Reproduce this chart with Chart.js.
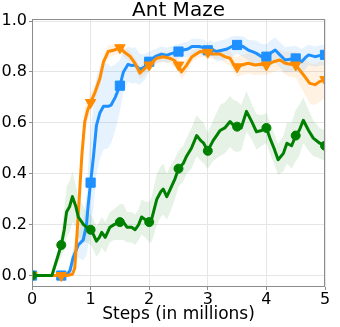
<!DOCTYPE html>
<html>
<head>
<meta charset="utf-8">
<script src="https://cdn.jsdelivr.net/npm/chart.js@4"></script>
<style>
  html, body { margin: 0; padding: 0; background: #fff; }
  #wrap { width: 340px; height: 327px; }
</style>
</head>
<body>
<div id="wrap"><canvas id="chart" width="340" height="327"></canvas></div>
<script>
// steps in millions / success rate
const greenX = [0, 0.1, 0.2, 0.3, 0.34, 0.42, 0.5, 0.55, 0.59, 0.64, 0.69, 0.72, 0.75, 0.79, 0.88, 0.93, 1.0, 1.05, 1.1, 1.15, 1.19, 1.25, 1.33, 1.4, 1.5, 1.56, 1.62, 1.7, 1.76, 1.82, 1.87, 1.93, 2.0, 2.04, 2.13, 2.2, 2.24, 2.3, 2.36, 2.44, 2.5, 2.58, 2.64, 2.72, 2.81, 2.88, 2.93, 3.0, 3.09, 3.15, 3.21, 3.29, 3.38, 3.44, 3.5, 3.57, 3.66, 3.75, 3.83, 3.92, 4.0, 4.06, 4.13, 4.2, 4.29, 4.35, 4.43, 4.5, 4.56, 4.63, 4.72, 4.8, 4.91, 5.0];
const greenY = [0, 0, 0, 0, 0, 0.06, 0.12, 0.18, 0.25, 0.27, 0.31, 0.29, 0.27, 0.23, 0.2, 0.19, 0.18, 0.16, 0.135, 0.15, 0.17, 0.15, 0.19, 0.2, 0.21, 0.21, 0.19, 0.19, 0.18, 0.2, 0.23, 0.22, 0.21, 0.22, 0.3, 0.33, 0.34, 0.31, 0.34, 0.38, 0.42, 0.44, 0.47, 0.5, 0.55, 0.53, 0.52, 0.49, 0.53, 0.55, 0.57, 0.58, 0.605, 0.59, 0.585, 0.58, 0.645, 0.605, 0.565, 0.57, 0.58, 0.54, 0.5, 0.455, 0.48, 0.52, 0.51, 0.55, 0.57, 0.61, 0.57, 0.54, 0.52, 0.51];
const greenErr = [0, 0, 0, 0, 0, 0.02, 0.05, 0.08, 0.1, 0.1, 0.1, 0.09, 0.08, 0.08, 0.07, 0.06, 0.06, 0.06, 0.06, 0.06, 0.06, 0.06, 0.06, 0.06, 0.07, 0.07, 0.06, 0.06, 0.06, 0.06, 0.07, 0.07, 0.08, 0.09, 0.1, 0.1, 0.1, 0.09, 0.09, 0.08, 0.07, 0.07, 0.07, 0.08, 0.08, 0.08, 0.08, 0.07, 0.08, 0.09, 0.1, 0.1, 0.1, 0.1, 0.1, 0.09, 0.08, 0.07, 0.07, 0.06, 0.06, 0.06, 0.06, 0.06, 0.07, 0.08, 0.09, 0.1, 0.1, 0.09, 0.08, 0.07, 0.06, 0.06];

const blueX = [0, 0.1, 0.2, 0.3, 0.4, 0.5, 0.6, 0.65, 0.7, 0.79, 0.875, 0.93, 0.96, 1.0, 1.05, 1.1, 1.16, 1.22, 1.3, 1.35, 1.42, 1.5, 1.56, 1.64, 1.7, 1.76, 1.84, 1.93, 2.0, 2.1, 2.21, 2.3, 2.35, 2.42, 2.5, 2.58, 2.66, 2.73, 2.85, 2.95, 3.0, 3.04, 3.1, 3.15, 3.26, 3.33, 3.41, 3.5, 3.6, 3.69, 3.76, 3.83, 3.92, 4.0, 4.08, 4.15, 4.23, 4.32, 4.4, 4.5, 4.6, 4.66, 4.72, 4.83, 4.92, 5.0];
const blueY = [0, 0, 0, 0, 0, 0, 0.005, 0.02, 0.07, 0.12, 0.14, 0.2, 0.28, 0.365, 0.47, 0.59, 0.64, 0.665, 0.665, 0.67, 0.7, 0.746, 0.8, 0.83, 0.825, 0.827, 0.81, 0.82, 0.84, 0.86, 0.87, 0.865, 0.87, 0.875, 0.88, 0.886, 0.89, 0.9, 0.9, 0.895, 0.885, 0.895, 0.885, 0.88, 0.886, 0.89, 0.9, 0.906, 0.9, 0.886, 0.88, 0.873, 0.86, 0.86, 0.875, 0.886, 0.867, 0.847, 0.85, 0.853, 0.84, 0.855, 0.867, 0.86, 0.865, 0.867];
const blueErr = [0, 0, 0, 0, 0, 0, 0.01, 0.02, 0.04, 0.05, 0.08, 0.12, 0.16, 0.2, 0.2, 0.19, 0.18, 0.17, 0.165, 0.15, 0.13, 0.1, 0.08, 0.07, 0.07, 0.07, 0.06, 0.05, 0.04, 0.03, 0.03, 0.03, 0.03, 0.03, 0.03, 0.03, 0.03, 0.03, 0.03, 0.03, 0.03, 0.03, 0.03, 0.04, 0.04, 0.04, 0.04, 0.035, 0.04, 0.04, 0.045, 0.05, 0.05, 0.05, 0.05, 0.05, 0.05, 0.05, 0.05, 0.05, 0.05, 0.045, 0.04, 0.04, 0.04, 0.04];

const orangeX = [0, 0.1, 0.2, 0.3, 0.4, 0.5, 0.6, 0.69, 0.73, 0.79, 0.85, 0.9, 0.95, 1.0, 1.075, 1.16, 1.22, 1.3, 1.39, 1.5, 1.59, 1.67, 1.76, 1.84, 1.93, 2.0, 2.06, 2.13, 2.24, 2.35, 2.43, 2.5, 2.55, 2.64, 2.73, 2.8, 2.87, 3.0, 3.09, 3.21, 3.29, 3.38, 3.44, 3.5, 3.58, 3.69, 3.81, 3.9, 4.0, 4.12, 4.23, 4.32, 4.41, 4.5, 4.57, 4.66, 4.74, 4.83, 4.91, 5.0];
const orangeY = [0, 0, 0, 0, 0, 0, 0, 0.005, 0.03, 0.24, 0.47, 0.605, 0.65, 0.68, 0.72, 0.775, 0.84, 0.88, 0.885, 0.895, 0.875, 0.862, 0.834, 0.795, 0.815, 0.827, 0.84, 0.854, 0.86, 0.854, 0.845, 0.827, 0.8, 0.827, 0.86, 0.87, 0.88, 0.877, 0.87, 0.87, 0.86, 0.854, 0.83, 0.82, 0.827, 0.834, 0.827, 0.83, 0.827, 0.84, 0.847, 0.834, 0.83, 0.827, 0.807, 0.78, 0.755, 0.75, 0.762, 0.77];
const orangeErr = [0, 0, 0, 0, 0, 0, 0, 0, 0.02, 0.05, 0.06, 0.05, 0.04, 0.04, 0.03, 0.03, 0.03, 0.025, 0.02, 0.02, 0.02, 0.02, 0.02, 0.025, 0.025, 0.02, 0.02, 0.02, 0.02, 0.02, 0.025, 0.025, 0.03, 0.03, 0.02, 0.02, 0.02, 0.02, 0.02, 0.02, 0.025, 0.03, 0.03, 0.04, 0.04, 0.04, 0.04, 0.04, 0.04, 0.04, 0.04, 0.045, 0.05, 0.05, 0.06, 0.07, 0.08, 0.08, 0.08, 0.07];

const yTicks = [0, 0.2, 0.4, 0.6, 0.8, 1.0];

const BLUE = "#1e90ff";
const ORANGE = "#ff8c00";
const GREEN = "#008000";
const FONT = '"DejaVu Sans", sans-serif';

function toPoints(xs, ys, off) {
  return xs.map((x, i) => ({ x: x, y: ys[i] + (off ? off[i] || 0 : 0) }));
}
function neg(arr) { return arr.map((v) => -v); }

function isMarker(x) { return Math.abs(x * 2 - Math.round(x * 2)) < 1e-6; }

function band(xs, ys, err, color) {
  return [
    { data: toPoints(xs, ys, err), borderWidth: 0, pointRadius: 0, fill: "+1", backgroundColor: color, order: 10 },
    { data: toPoints(xs, ys, neg(err)), borderWidth: 0, pointRadius: 0, fill: false, backgroundColor: color, order: 10 },
  ];
}

function line(xs, ys, color, style, r, rot, order) {
  return {
    data: toPoints(xs, ys),
    borderColor: color,
    backgroundColor: color,
    borderWidth: 3,
    borderJoinStyle: "round",
    fill: false,
    tension: 0,
    pointStyle: style,
    pointRotation: rot,
    pointRadius: (c) => (isMarker(c.raw.x) ? r : 0),
    pointBorderWidth: 1,
    pointBorderColor: color,
    pointBackgroundColor: color,
    order: order,
  };
}

const framePlugin = {
  id: "frame",
  afterDraw(chart) {
    const a = chart.chartArea;
    const ctx = chart.ctx;
    ctx.save();
    ctx.strokeStyle = "#8c8c8c";
    ctx.lineWidth = 1;
    ctx.strokeRect(a.left + 0.5, a.top + 0.5, a.right - a.left - 1, a.bottom - a.top - 1);
    ctx.fillStyle = "#000";
    ctx.font = "20px " + FONT;
    ctx.textAlign = "center";
    ctx.textBaseline = "alphabetic";
    ctx.fillText("Ant Maze", (a.left + a.right) / 2, 16);
    ctx.restore();
  },
};

new Chart(document.getElementById("chart"), {
  type: "line",
  data: {
    datasets: [
      ...band(blueX, blueY, blueErr, "rgba(30,144,255,0.11)"),
      ...band(orangeX, orangeY, orangeErr, "rgba(255,140,0,0.11)"),
      ...band(greenX, greenY, greenErr, "rgba(0,128,0,0.1)"),
      line(blueX, blueY, BLUE, "rect", 6.5, 0, 3),
      line(orangeX, orangeY, ORANGE, "triangle", 6, 180, 2),
      line(greenX, greenY, GREEN, "circle", 4.5, 0, 1),
    ],
  },
  options: {
    responsive: false,
    animation: false,
    events: [],
    layout: { padding: { top: 19, right: 15, left: 0, bottom: 0 } },
    plugins: { legend: { display: false }, tooltip: { enabled: false } },
    scales: {
      x: {
        type: "linear",
        min: 0,
        max: 5,
        afterFit: (s) => { s.height = 40; },
        ticks: { stepSize: 1, color: "#000", font: { family: FONT, size: 16 }, padding: 0, maxRotation: 0 },
        grid: { color: "#e6e6e6", tickColor: "#8c8c8c", tickLength: 3 },
        border: { display: false },
        title: { display: true, text: "Steps (in millions)", color: "#000", font: { family: FONT, size: 17 }, padding: { top: 0, bottom: 2 } },
      },
      y: {
        type: "linear",
        min: -0.045,
        max: 1.008,
        afterFit: (s) => { s.width = 32; },
        afterBuildTicks: (s) => { s.ticks = yTicks.map((v) => ({ value: v })); },
        ticks: { color: "#000", font: { family: FONT, size: 16 }, padding: 2, callback: (v) => v.toFixed(1) },
        grid: { color: "#e6e6e6", tickColor: "#8c8c8c", tickLength: 3 },
        border: { display: false },
      },
    },
  },
  plugins: [framePlugin],
});
</script>
</body>
</html>
